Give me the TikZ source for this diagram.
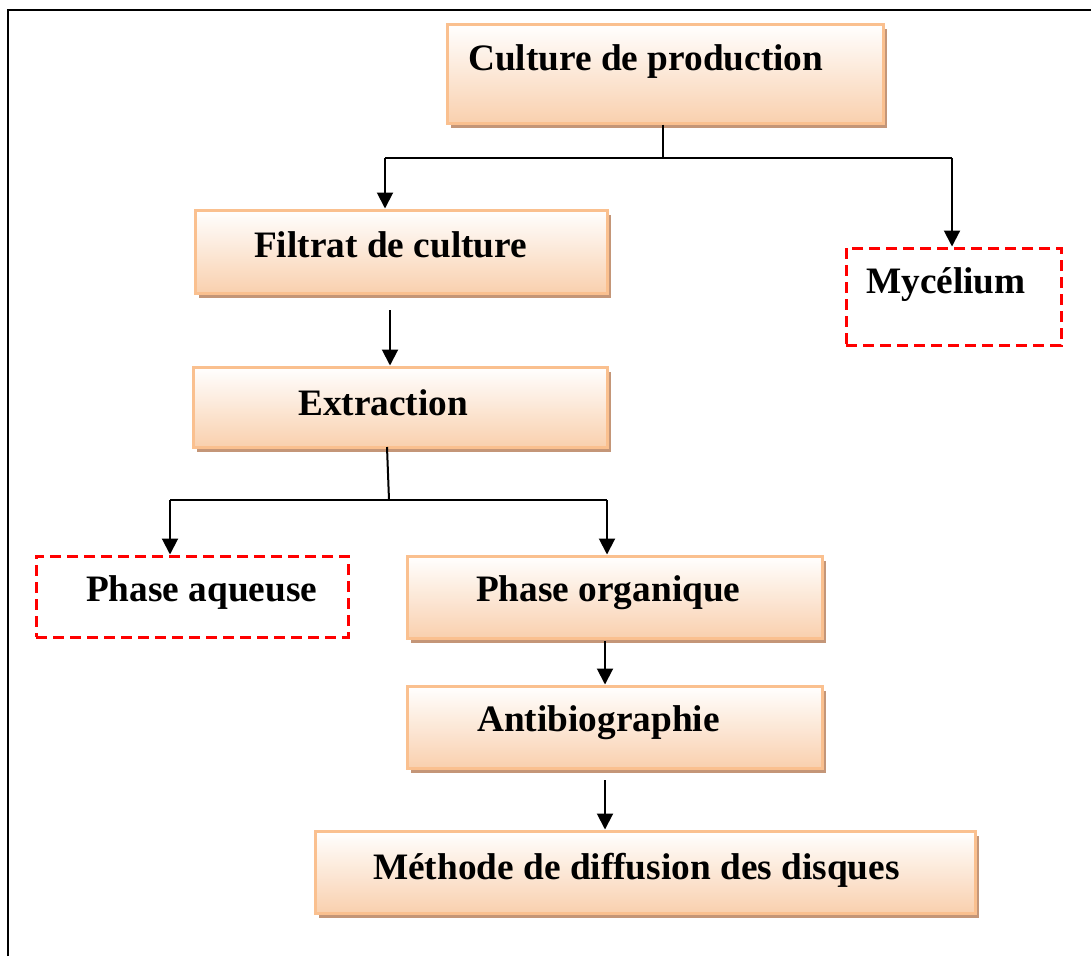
\documentclass[tikz,border=0pt]{standalone}
\usepackage{fontspec}
\setmainfont{Liberation Serif}
\usetikzlibrary{arrows.meta,shadows}
\definecolor{boxborder}{RGB}{250,192,143}
\definecolor{boxbot}{RGB}{249,208,174}
\definecolor{shadowc}{RGB}{196,150,120}
\begin{document}
\begin{tikzpicture}[x=1pt,y=-1pt,
  pbox/.style={draw=boxborder, line width=3pt, top color=white, bottom color=boxbot,
    inner sep=0pt, general shadow={fill=shadowc, shadow xshift=4pt, shadow yshift=-5pt}},
  dbox/.style={draw=red, line width=3pt, dash pattern=on 11pt off 6pt, inner sep=0pt},
  lbl/.style={anchor=base west, inner sep=0pt, font=\fontsize{37.3}{44}\selectfont\bfseries},
  conn/.style={line width=2pt, black},
  arr/.style={conn, -{Triangle[width=16pt,length=16pt]}}]
\useasboundingbox (0,0) rectangle (1091,956);
% frame
\draw[line width=2.5pt] (8,956) -- (8,10) -- (1091,10);
% boxes
\node[pbox, minimum width=436pt, minimum height=99pt] (cp) at (665,73.5) {};
\node[pbox, minimum width=412pt, minimum height=83pt] (ft) at (401,251.5) {};
\node[dbox, minimum width=215pt, minimum height=97pt] (my) at (953.5,296.5) {};
\node[pbox, minimum width=414pt, minimum height=80pt] (ex) at (400,407) {};
\node[dbox, minimum width=312pt, minimum height=81pt] (pa) at (192,596.5) {};
\node[pbox, minimum width=415pt, minimum height=82pt] (po) at (614.5,597) {};
\node[pbox, minimum width=415pt, minimum height=82pt] (ab) at (614.5,727) {};
\node[pbox, minimum width=660pt, minimum height=82pt] (me) at (645,872) {};
% labels
\node[lbl] (tcp) at (468,70) {Culture de production};
\node[lbl] (tft) at (254,257) {Filtrat de culture};
\node[lbl] (tmy) at (866,293) {Mycélium};
\node[lbl] (tex) at (298,415) {Extraction};
\node[lbl] (tpa) at (86,601) {Phase aqueuse};
\node[lbl] (tpo) at (476,601) {Phase organique};
\node[lbl] (tab) at (477,731) {Antibiographie};
\node[lbl] (tme) at (373,879) {Méthode de diffusion des disques};
% connectors
\coordinate (j1) at (663,158);
\coordinate (l1) at (385,158);
\coordinate (r1) at (952,158);
\draw[conn] (cp.south -| j1) -- (j1);
\draw[conn] (l1) -- (r1);
\draw[arr] (l1) -- (l1 |- ft.north);
\draw[arr] (r1) -- (r1 |- my.north);
\coordinate (a1) at (390,310);
\draw[arr] (a1) -- (a1 |- ex.north);
\coordinate (j2) at (389,500);
\coordinate (l2) at (170,500);
\coordinate (r2) at (607,500);
\draw[conn] (387,447) -- (j2);
\draw[conn] (l2) -- (r2);
\draw[arr] (l2) -- (l2 |- pa.north);
\draw[arr] (r2) -- (r2 |- po.north);
\coordinate (a2) at (605,641);
\draw[arr] (a2) -- (a2 |- ab.north);
\coordinate (a3) at (605,780);
\draw[arr] (a3) -- (a3 |- me.north);
\end{tikzpicture}
\end{document}
